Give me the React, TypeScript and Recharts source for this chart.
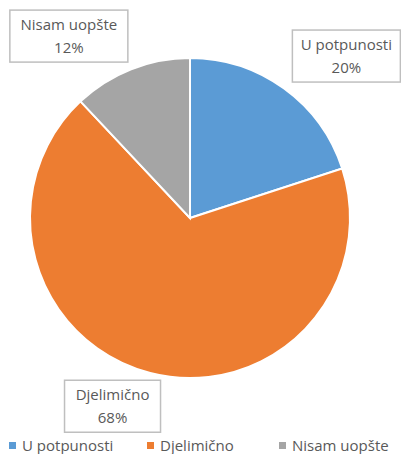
import React from "react";
import { PieChart, Pie, Cell, Legend } from "recharts";

const categories = ["U potpunosti", "Djelimično", "Nisam uopšte"];
const values = [20, 68, 12];
const colors = ["#5B9BD5", "#ED7D31", "#A5A5A5"];

const data = categories.map((name, i) => ({ name, value: values[i] }));

const FONT = "'Open Sans', 'Liberation Sans', sans-serif";
const TEXT = "#595959";

// label box placement (offset from polar point at outerRadius + 55) and box widths
const labelAdjust = [
  { dx: 30, dy: 12, w: 108 },
  { dx: -24, dy: -20, w: 96 },
  { dx: -42, dy: 18, w: 118 },
];

const RADIAN = Math.PI / 180;

const renderLabel = (props: any) => {
  const { cx, cy, midAngle, outerRadius, index, percent, name } = props;
  const r = outerRadius + 55;
  const adj = labelAdjust[index];
  const x = cx + r * Math.cos(-midAngle * RADIAN) + adj.dx;
  const y = cy + r * Math.sin(-midAngle * RADIAN) + adj.dy;
  const w = adj.w;
  const h = 52;
  return (
    <g>
      <rect x={x - w / 2} y={y - h / 2} width={w} height={h} fill="#ffffff" stroke="#BFBFBF" strokeWidth={1.5} />
      <text x={x} y={y - 10} textAnchor="middle" fill={TEXT} fontFamily={FONT} fontSize={15} dominantBaseline="middle">
        {name}
      </text>
      <text x={x} y={y + 13} textAnchor="middle" fill={TEXT} fontFamily={FONT} fontSize={15} dominantBaseline="middle">
        {`${Math.round(percent * 100)}%`}
      </text>
    </g>
  );
};

const legendX = [9, 147, 279];

const renderLegend = () => (
  <div style={{ position: "relative", width: 401, height: 16, fontFamily: FONT, fontSize: 15, lineHeight: "16px", color: TEXT }}>
    {categories.map((c, i) => (
      <div key={c} style={{ position: "absolute", left: legendX[i], top: 0, height: 16, display: "flex", alignItems: "center", whiteSpace: "nowrap" }}>
        <span style={{ display: "inline-block", width: 7, height: 7, background: colors[i], marginRight: 6 }} />
        <span>{c}</span>
      </div>
    ))}
  </div>
);

export default function App() {
  return (
    <div style={{ position: "absolute", left: 0, top: 0, width: 401, height: 454, background: "#fff" }}>
      <PieChart width={401} height={454} margin={{ top: 0, right: 0, bottom: 0, left: 0 }}>
        <Pie
          data={data}
          dataKey="value"
          nameKey="name"
          cx={190}
          cy={218}
          outerRadius={160}
          startAngle={90}
          endAngle={-270}
          stroke="#ffffff"
          strokeWidth={2}
          label={renderLabel}
          labelLine={false}
          isAnimationActive={false}
        >
          {data.map((d, i) => (
            <Cell key={d.name} fill={colors[i]} />
          ))}
        </Pie>
        <Legend
          content={renderLegend}
          verticalAlign="bottom"
          wrapperStyle={{ left: 0, top: 437, width: 401, height: 16 }}
        />
      </PieChart>
    </div>
  );
}
